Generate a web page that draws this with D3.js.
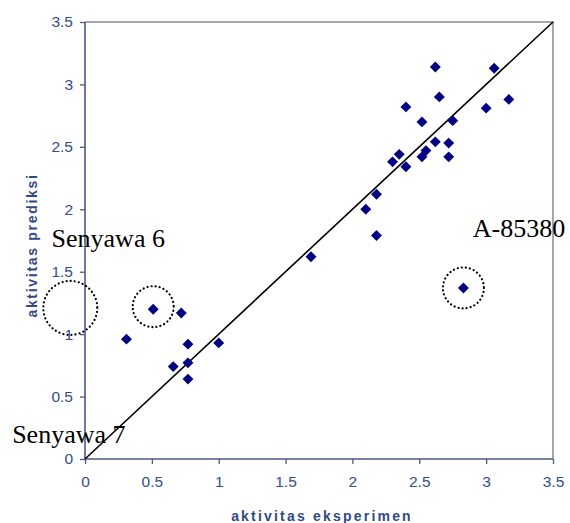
<!DOCTYPE html>
<html><head><meta charset="utf-8">
<script src="https://cdn.jsdelivr.net/npm/d3@7"></script>
<style>body{margin:0;background:#fff}svg{display:block}</style>
</head><body>
<script>
const eksperimen = [2.62,3.06,2.65,3.17,2.40,3.00,2.52,2.75,2.62,2.72,2.55,2.52,2.72,2.35,2.30,2.40,
  2.18,2.10,2.18,1.69,2.83,0.51,0.72,0.31,0.77,1.00,0.66,0.77,0.77];
const prediksi = [3.14,3.13,2.90,2.88,2.82,2.81,2.70,2.71,2.54,2.53,2.47,2.42,2.42,2.44,2.38,2.34,
  2.12,2.00,1.79,1.62,1.37,1.20,1.17,0.96,0.92,0.93,0.74,0.77,0.64];
const xTicks = [0,0.5,1,1.5,2,2.5,3,3.5];
const yTicks = [0,0.5,1,1.5,2,2.5,3,3.5];
const circleX = [-0.11, 0.51, 2.83];
const circleY = [1.21, 1.22, 1.37];
const labelTexts = ["Senyawa 6","Senyawa 7","A-85380"];
const labelX = [-0.25, -0.545, 2.9];
const labelY = [1.70, 0.13, 1.78];

const W=570,H=523;
const svg=d3.select("body").append("svg").attr("width",W).attr("height",H);
const x=d3.scaleLinear().domain([0,3.5]).range([85,553]);
const y=d3.scaleLinear().domain([0,3.5]).range([459,22]);
const axisCol="#4a5a82", tickCol="#2f4e8e";

// top & right frame
svg.append("path").attr("d",`M${x(0)},${y(3.5)}H${x(3.5)}V${y(0)}`).attr("fill","none").attr("stroke","#8a8a8a").attr("stroke-width",1.5);

const gx=svg.append("g").attr("transform",`translate(0,${y(0)})`)
  .call(d3.axisBottom(x).tickValues(xTicks).tickSize(5).tickPadding(12).tickFormat(d3.format("")));
const gy=svg.append("g").attr("transform",`translate(${x(0)},0)`)
  .call(d3.axisLeft(y).tickValues(yTicks).tickSize(5).tickPadding(7).tickFormat(d3.format("")));
[gx,gy].forEach(g=>{
  g.select(".domain").attr("stroke",axisCol).attr("stroke-width",1.6);
  g.selectAll(".tick line").attr("stroke",axisCol).attr("stroke-width",1.3);
  g.selectAll(".tick text").attr("fill",tickCol).attr("font-family","Liberation Sans, Arial, sans-serif").attr("font-size",15.5);
});
gx.select(".domain").attr("d",`M${x(0)},0H${x(3.5)}`);
gy.select(".domain").attr("d",`M0,${y(0)}V${y(3.5)}`);

// diagonal
svg.append("line").attr("x1",x(0)).attr("y1",y(0)).attr("x2",x(3.5)).attr("y2",y(3.5))
  .attr("stroke","#000").attr("stroke-width",1.6);

// points
const pts=eksperimen.map((v,i)=>({x:v,y:prediksi[i]}));
svg.append("g").selectAll("path").data(pts).join("path")
  .attr("transform",d=>`translate(${x(d.x)},${y(d.y)})`)
  .attr("d",d3.symbol(d3.symbolDiamond2,76)())
  .attr("fill","#000080");

// circles
const radii=[27,20.5,20.5];
svg.append("g").selectAll("circle").data(circleX).join("circle")
  .attr("cx",(d)=>x(d)).attr("cy",(d,i)=>y(circleY[i])).attr("r",(d,i)=>radii[i])
  .attr("fill","none").attr("stroke","#000").attr("stroke-width",2.2)
  .attr("stroke-dasharray","0.1 4").attr("stroke-linecap","round");

// annotation labels
svg.append("g").selectAll("text").data(labelTexts).join("text")
  .attr("x",(d,i)=>x(labelX[i])).attr("y",(d,i)=>y(labelY[i]))
  .attr("font-family","Liberation Serif, Times New Roman, serif").attr("font-size",26)
  .attr("fill","#000").text(d=>d);

// axis titles
svg.append("text").attr("x",(x(0)+x(3.5))/2+3).attr("y",521).attr("text-anchor","middle")
  .attr("font-family","Liberation Sans, Arial, sans-serif").attr("font-weight","bold")
  .attr("font-size",14).attr("letter-spacing",2.2).attr("fill","#2f4a85").text("aktivitas eksperimen");
svg.append("text").attr("transform",`translate(37,${(174+317)/2}) rotate(-90)`).attr("text-anchor","middle")
  .attr("font-family","Liberation Sans, Arial, sans-serif").attr("font-weight","bold")
  .attr("font-size",14).attr("letter-spacing",1.7).attr("fill","#2f4a85").text("aktivitas prediksi");
</script>
</body></html>
